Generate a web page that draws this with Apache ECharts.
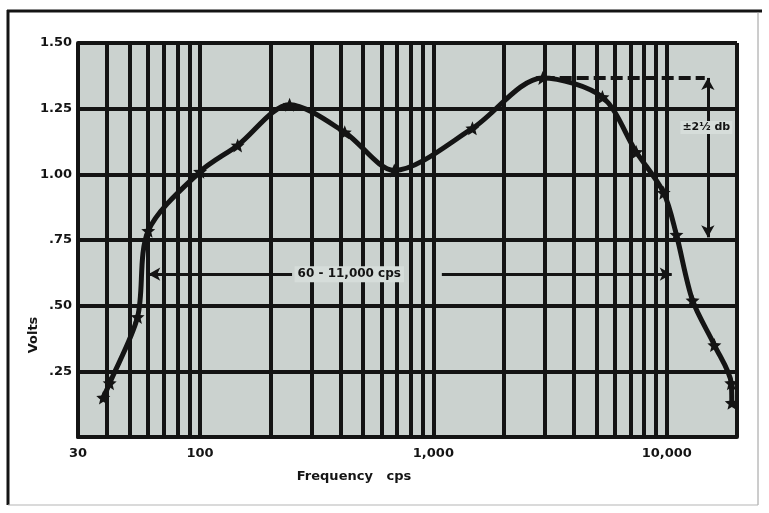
<!DOCTYPE html>
<html>
<head>
<meta charset="utf-8">
<script src="https://cdn.jsdelivr.net/npm/echarts@6/dist/echarts.min.js"></script>
<style>
  html, body { margin: 0; padding: 0; background: #fff; }
  #main { width: 769px; height: 513px; }
</style>
</head>
<body>
<div id="main"></div>
<script>
// measured response (cps, volts)
const freqs = [38.5, 41, 54, 60, 100, 145, 242, 417, 680, 1470, 2940, 5300, 7400, 9700, 11000, 12900, 16000, 18900, 19000]
const volts = [0.15, 0.205, 0.457, 0.785, 1.01, 1.11, 1.265, 1.16, 1.015, 1.175, 1.367, 1.294, 1.085, 0.93, 0.77, 0.52, 0.35, 0.205, 0.13]

// axis ticks
const xTickValues = [30, 100, 1000, 10000]
const xTickLabels = ['30', '100', '1,000', '10,000']
const yTickValues = [0.25, 0.5, 0.75, 1, 1.25, 1.5]
const yTickLabels = ['.25', '.50', '.75', '1.00', '1.25', '1.50']

// log paper rulings
const gridFreqs = [30, 40, 50, 60, 70, 80, 90, 100,
  200, 300, 400, 500, 600, 700, 800, 900, 1000,
  2000, 3000, 4000, 5000, 6000, 7000, 8000, 9000, 10000, 20000]

// annotations
const bandRange = [60, 11000]
const bandLevel = 0.62
const bandGap = [248, 1087]
const bandText = '60 - 11,000 cps'
const tolTop = 1.367
const tolBottom = 0.76
const tolFreq = 15000
const tolText = '±2½ db'

const starPath = 'path://M0,-10 L2.6,-3.6 9.5,-3.1 4.2,1.4 5.9,8.1 0,4.4 -5.9,8.1 -4.2,1.4 -9.5,-3.1 -2.6,-3.6Z'
const ink = '#141414'
const font = '"DejaVu Sans", sans-serif'

const chart = echarts.init(document.getElementById('main'))

const option = {
  backgroundColor: '#fff',
  animation: false,
  grid: {
    left: 78,
    right: 32,
    top: 43,
    bottom: 76,
    show: true,
    backgroundColor: '#cbd2cf',
    borderWidth: 0
  },
  xAxis: {
    type: 'log',
    logBase: 10,
    min: 30,
    max: 20000,
    axisLine: { show: true, lineStyle: { color: ink, width: 4 } },
    axisTick: { show: false },
    splitLine: { show: false },
    axisLabel: {
      customValues: xTickValues,
      color: ink,
      fontFamily: font,
      fontWeight: 'bold',
      fontSize: 13,
      margin: 10,
      formatter: (v) => {
        const i = xTickValues.findIndex(t => Math.abs(t - v) / t < 0.01)
        return i >= 0 ? xTickLabels[i] : ''
      }
    }
  },
  yAxis: {
    type: 'value',
    min: 0,
    max: 1.5,
    interval: 0.25,
    axisLine: { show: true, lineStyle: { color: ink, width: 4 } },
    axisTick: { show: false },
    splitLine: { show: true, lineStyle: { color: ink, width: 4 } },
    axisLabel: {
      color: ink,
      fontFamily: font,
      fontWeight: 'bold',
      fontSize: 13,
      margin: 6,
      formatter: (v) => {
        const i = yTickValues.findIndex(t => Math.abs(t - v) < 1e-6)
        return i >= 0 ? yTickLabels[i] : ''
      }
    }
  },
  graphic: [
    { type: 'line', shape: { x1: 7, y1: 11, x2: 762, y2: 11 }, style: { stroke: ink, lineWidth: 3 } },
    { type: 'line', shape: { x1: 8, y1: 10, x2: 8, y2: 505 }, style: { stroke: ink, lineWidth: 3 } },
    { type: 'line', shape: { x1: 758, y1: 12, x2: 758, y2: 505 }, style: { stroke: '#9a9a9a', lineWidth: 1 } },
    { type: 'line', shape: { x1: 8, y1: 505, x2: 758, y2: 505 }, style: { stroke: '#b5b5b5', lineWidth: 1 } },
    {
      type: 'text', x: 34, y: 335, rotation: Math.PI / 2,
      style: { text: 'Volts', font: 'bold 13px ' + font, fill: ink, align: 'center', verticalAlign: 'middle' }
    },
    {
      type: 'text', x: 354, y: 477,
      style: { text: 'Frequency   cps', font: 'bold 13px ' + font, fill: ink, align: 'center', verticalAlign: 'middle' }
    }
  ],
  series: [
    {
      name: 'paper',
      type: 'line',
      data: [],
      silent: true,
      markLine: {
        silent: true,
        symbol: 'none',
        z: 1,
        label: { show: false },
        lineStyle: { color: ink, width: 4, type: 'solid' },
        data: gridFreqs.map(f => ({ xAxis: f }))
      }
    },
    {
      name: 'response',
      type: 'line',
      z: 6,
      smooth: 0.3,
      symbol: starPath,
      symbolSize: 14,
      itemStyle: { color: ink },
      lineStyle: { color: ink, width: 5 },
      data: freqs.map((f, i) => [f, volts[i]])
    },
    {
      name: 'notes',
      type: 'line',
      data: [],
      z: 7,
      silent: true,
      markLine: {
        silent: true,
        z: 7,
        label: { show: false },
        symbolSize: [10, 12],
        lineStyle: { color: ink, width: 3, type: 'solid' },
        data: [
          [{ coord: [bandRange[0], bandLevel], symbol: 'arrow' }, { coord: [bandGap[0], bandLevel], symbol: 'none' }],
          [{ coord: [bandGap[1], bandLevel], symbol: 'none' }, { coord: [bandRange[1] * 0.955, bandLevel], symbol: 'arrow' }],
          [
            { coord: [freqs[10], tolTop], symbol: 'none', lineStyle: { type: [12, 5], width: 4 } },
            { coord: [tolFreq * 0.97, tolTop], symbol: 'none' }
          ],
          [{ coord: [tolFreq, tolTop], symbol: 'arrow' }, { coord: [tolFreq, tolBottom], symbol: 'arrow' }]
        ]
      },
      markPoint: {
        silent: true,
        symbol: 'rect',
        symbolSize: 0,
        z: 8,
        label: {
          show: true,
          position: 'inside',
          color: ink,
          fontFamily: font,
          fontWeight: 'bold',
          fontSize: 12
        },
        data: [
          {
            coord: [Math.sqrt(bandGap[0] * bandGap[1]) * 0.84, bandLevel],
            label: { formatter: bandText, backgroundColor: '#d6ddda', padding: [2, 3] }
          },
          {
            coord: [tolFreq * 0.985, 1.178],
            label: { formatter: tolText, fontSize: 11, backgroundColor: '#d6ddda', padding: [1, 2] }
          }
        ]
      }
    }
  ]
}

chart.setOption(option)
</script>
</body>
</html>
